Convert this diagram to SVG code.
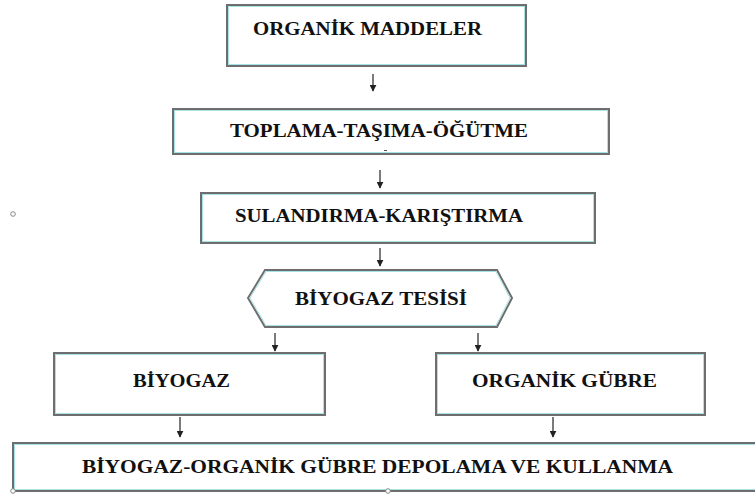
<svg xmlns="http://www.w3.org/2000/svg" width="755" height="495" viewBox="0 0 755 495">
<defs>
<style>
.bx{fill:#ffffff;stroke:#6e6e6e;stroke-width:2}
.in{fill:none;stroke:#a6e3e6;stroke-width:1}
.t{font-family:"Liberation Serif","Times New Roman",serif;font-weight:bold;font-size:19px;fill:#111;}
.c{stroke:#222;stroke-width:1.2;fill:none}
.dot{fill:#fff;stroke:#888;stroke-width:1}
</style>
<marker id="ah" viewBox="0 0 10 10" refX="9" refY="5" markerWidth="7" markerHeight="7" markerUnits="userSpaceOnUse" orient="auto">
<path d="M0,0 L10,5 L0,10 z" fill="#222"/>
</marker>
</defs>
<rect width="755" height="495" fill="#ffffff"/>
<g id="n1">
<rect class="bx" x="227" y="5" width="299" height="61"/>
<rect class="in" x="228.5" y="6.5" width="296" height="58"/>
<text class="t" x="253" y="35" textLength="229" lengthAdjust="spacingAndGlyphs">ORGANİK MADDELER</text>
</g>
<g id="n2">
<rect class="bx" x="173" y="109" width="436" height="45"/>
<rect class="in" x="174.5" y="110.5" width="433" height="42"/>
<text class="t" x="230" y="137" textLength="298" lengthAdjust="spacingAndGlyphs">TOPLAMA-TAŞIMA-ÖĞÜTME</text>
<line x1="384" y1="150.5" x2="387" y2="150.5" stroke="#555" stroke-width="1"/>
</g>
<g id="n3">
<rect class="bx" x="201" y="193" width="394" height="50"/>
<rect class="in" x="202.5" y="194.5" width="391" height="47"/>
<text class="t" x="235" y="222" textLength="288" lengthAdjust="spacingAndGlyphs">SULANDIRMA-KARIŞTIRMA</text>
</g>
<g id="n4">
<polygon class="bx" points="248,298 265,270 497,270 512,298 497,327 265,327"/>
<polygon class="in" points="250,298 266,271.5 496,271.5 510,298 496,325.5 266,325.5"/>
<text class="t" x="295" y="305" textLength="172" lengthAdjust="spacingAndGlyphs">BİYOGAZ TESİSİ</text>
</g>
<g id="n5">
<rect class="bx" x="54" y="353" width="271" height="62"/>
<rect class="in" x="55.5" y="354.5" width="268" height="59"/>
<text class="t" x="133" y="387" textLength="97" lengthAdjust="spacingAndGlyphs">BİYOGAZ</text>
</g>
<g id="n6">
<rect class="bx" x="436" y="353" width="269" height="62"/>
<rect class="in" x="437.5" y="354.5" width="266" height="59"/>
<text class="t" x="472" y="387" textLength="185" lengthAdjust="spacingAndGlyphs">ORGANİK GÜBRE</text>
</g>
<g id="n7">
<rect class="bx" x="13" y="443" width="750" height="48"/>
<rect class="in" x="14.5" y="444.5" width="747" height="45"/>
<text class="t" x="82" y="473" textLength="591" lengthAdjust="spacingAndGlyphs">BİYOGAZ-ORGANİK GÜBRE DEPOLAMA VE KULLANMA</text>
</g>
<g id="connectors">
<line class="c" x1="373" y1="74" x2="373" y2="91" marker-end="url(#ah)"/>
<line class="c" x1="380" y1="170" x2="380" y2="188" marker-end="url(#ah)"/>
<line class="c" x1="380" y1="248" x2="380" y2="266" marker-end="url(#ah)"/>
<line class="c" x1="275" y1="333" x2="275" y2="351" marker-end="url(#ah)"/>
<line class="c" x1="478" y1="333" x2="478" y2="351" marker-end="url(#ah)"/>
<line class="c" x1="180" y1="417" x2="180" y2="437" marker-end="url(#ah)"/>
<line class="c" x1="553" y1="417" x2="553" y2="437" marker-end="url(#ah)"/>
</g>
<circle class="dot" cx="13" cy="214" r="2.3"/>
<circle class="dot" cx="13" cy="491" r="2.3"/>
<circle class="dot" cx="388" cy="491" r="2.3"/>
</svg>
